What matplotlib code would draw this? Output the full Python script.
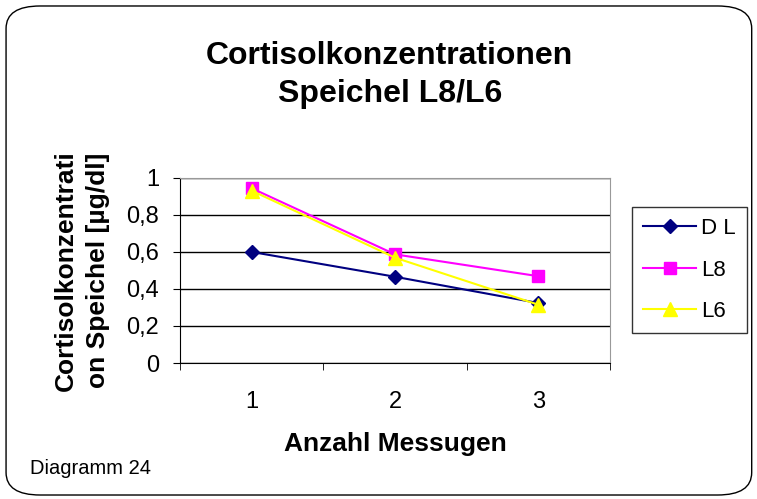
import matplotlib.pyplot as plt
from matplotlib.patches import FancyBboxPatch

plt.rcParams['font.family'] = ['Liberation Sans', 'DejaVu Sans']

# data
messungen = [1, 2, 3]
dl = [0.60, 0.466, 0.324]
l8 = [0.944, 0.587, 0.469]
l6 = [0.931, 0.569, 0.315]
yticks = [0, 0.2, 0.4, 0.6, 0.8, 1]
ytick_labels = ['0', '0,2', '0,4', '0,6', '0,8', '1']

fig = plt.figure(figsize=(7.57, 4.99), dpi=100)

# rounded frame around the whole chart
frame = FancyBboxPatch((0.008, 0.008), 0.985, 0.98, boxstyle='round,pad=0,rounding_size=0.045',
                       transform=fig.transFigure, fill=False, edgecolor='black', linewidth=1.0)
fig.patches.append(frame)

ax = fig.add_axes([0.2378, 0.2725, 0.568, 0.371])
ax.plot(messungen, dl, color='#000080', marker='D', markersize=7, linewidth=1.5, label='D L')
ax.plot(messungen, l8, color='#FF00FF', marker='s', markersize=9, linewidth=1.5, label='L8')
ax.plot(messungen, l6, color='#FFFF00', marker='^', markersize=10, linewidth=1.5, label='L6')

ax.set_xlim(0.5, 3.5)
ax.set_ylim(0, 1)
ax.set_yticks(yticks)
ax.set_yticklabels(ytick_labels, fontsize=17)
ax.set_xticks(messungen)
ax.set_xticklabels([str(m) for m in messungen], fontsize=17)
ax.tick_params(axis='x', length=0, pad=20)
ax.set_xticks([0.5, 1.5, 2.5, 3.5], minor=True)
ax.tick_params(axis='x', which='minor', length=5, direction='out')
ax.tick_params(axis='y', length=5, direction='out', pad=10)
ax.yaxis.grid(True, color='black', linewidth=1)
ax.set_axisbelow(True)
ax.spines['top'].set_color('#999999')
ax.spines['right'].set_color('#999999')

ax.set_xlabel('Anzahl Messugen', fontsize=19, fontweight='bold', labelpad=14)
ax.set_ylabel('Cortisolkonzentrati\non Speichel [µg/dl]', fontsize=19, fontweight='bold', labelpad=12,
              linespacing=1.4)

fig.text(0.515, 0.85, 'Cortisolkonzentrationen\nSpeichel L8/L6', ha='center', va='center',
         fontsize=23, fontweight='bold', linespacing=1.35)

leg = ax.legend(loc='upper left', bbox_to_anchor=(1.051, 0.843), fontsize=16, frameon=True,
                fancybox=False, edgecolor='black', handlelength=2.4, borderpad=0.5,
                labelspacing=0.92, handletextpad=0.2, borderaxespad=0)
leg.get_frame().set_linewidth(1.0)

fig.text(0.04, 0.05, 'Diagramm 24', fontsize=14.5)

fig.savefig('out.png', dpi=100)
